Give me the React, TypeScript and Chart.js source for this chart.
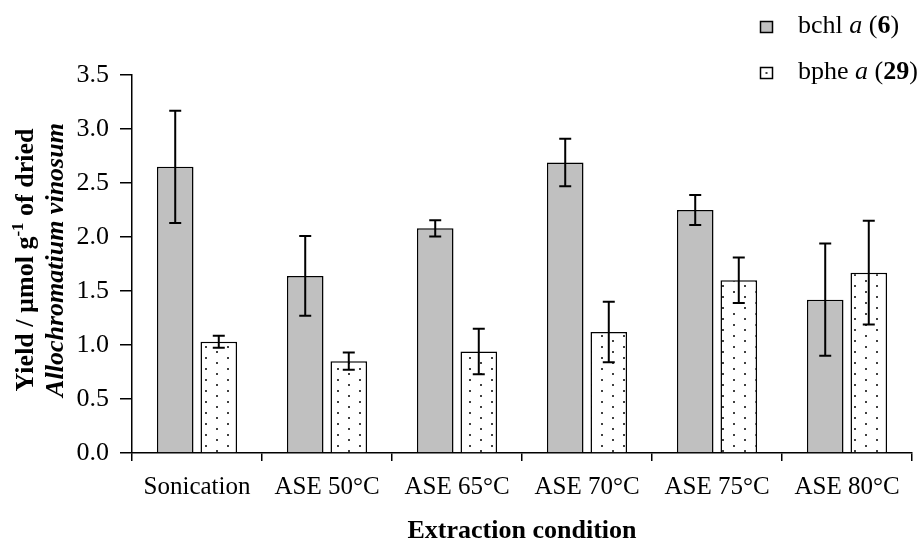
import React, { useEffect, useRef } from 'react';
import { Chart, registerables } from 'chart.js';

Chart.register(...registerables);

const categories = ['Sonication', 'ASE 50°C', 'ASE 65°C', 'ASE 70°C', 'ASE 75°C', 'ASE 80°C'];
const bchlValues = [2.65, 1.64, 2.08, 2.69, 2.25, 1.42];
const bchlErrors = [0.52, 0.37, 0.075, 0.22, 0.14, 0.52];
const bpheValues = [1.03, 0.85, 0.94, 1.12, 1.6, 1.67];
const bpheErrors = [0.055, 0.08, 0.21, 0.28, 0.21, 0.48];
const yMin = 0;
const yMax = 3.5;
const yStep = 0.5;

const FONT = "'Liberation Serif', 'Times New Roman', serif";

export default function App() {
  const canvasRef = useRef<HTMLCanvasElement | null>(null);

  useEffect(() => {
    const canvas = canvasRef.current;
    if (!canvas) return;
    const ctx = canvas.getContext('2d');
    if (!ctx) return;

    const tile = document.createElement('canvas');
    tile.width = 22;
    tile.height = 11;
    const tctx = tile.getContext('2d')!;
    tctx.fillStyle = '#ffffff';
    tctx.fillRect(0, 0, 22, 11);
    tctx.fillStyle = '#404040';
    tctx.fillRect(2, 2, 2, 2);
    tctx.fillRect(13, 7, 2, 2);
    const pattern = ctx.createPattern(tile, 'repeat')!;
    pattern.setTransform(new DOMMatrix().translate(5, 3));

    const errors = [bchlErrors, bpheErrors];

    const errorBarPlugin = {
      id: 'errorBars',
      afterDatasetsDraw(chart: any) {
        const c = chart.ctx;
        const yScale = chart.scales.y;
        c.save();
        c.strokeStyle = '#000';
        c.lineWidth = 2;
        chart.data.datasets.forEach((ds: any, di: number) => {
          const meta = chart.getDatasetMeta(di);
          meta.data.forEach((el: any, i: number) => {
            const v = ds.data[i];
            const e = errors[di][i];
            const yt = yScale.getPixelForValue(v + e);
            const yb = yScale.getPixelForValue(v - e);
            const x = el.x;
            c.beginPath();
            c.moveTo(x, yt);
            c.lineTo(x, yb);
            c.moveTo(x - 6, yt);
            c.lineTo(x + 6, yt);
            c.moveTo(x - 6, yb);
            c.lineTo(x + 6, yb);
            c.stroke();
          });
        });
        c.restore();
      },
    };

    const drawParts = (c: CanvasRenderingContext2D, parts: any[], startX: number, y: number) => {
      let x = startX;
      parts.forEach((p) => {
        c.font = p.font;
        c.fillText(p.text, x, y + (p.dy || 0));
        x += c.measureText(p.text).width;
      });
    };
    const measureParts = (c: CanvasRenderingContext2D, parts: any[]) => {
      let w = 0;
      parts.forEach((p) => {
        c.font = p.font;
        w += c.measureText(p.text).width;
      });
      return w;
    };

    const textPlugin = {
      id: 'customText',
      afterDraw(chart: any) {
        const c = chart.ctx as CanvasRenderingContext2D;
        const area = chart.chartArea;
        c.save();
        c.fillStyle = '#000';

        // X axis title
        c.font = `bold 26px ${FONT}`;
        c.textAlign = 'center';
        c.textBaseline = 'middle';
        c.fillText('Extraction condition', (area.left + area.right) / 2, 531);

        // Y axis title (rotated)
        c.textAlign = 'left';
        c.textBaseline = 'alphabetic';
        const cy = (area.top + area.bottom) / 2 - 4;
        const line1 = [
          { text: 'Yield / µmol g', font: `bold 26px ${FONT}` },
          { text: '-1', font: `bold 17px ${FONT}`, dy: -10 },
          { text: ' of dried', font: `bold 26px ${FONT}` },
        ];
        const line2 = [{ text: 'Allochromatium vinosum', font: `italic bold 26px ${FONT}` }];
        c.save();
        c.translate(33, cy);
        c.rotate(-Math.PI / 2);
        const w1 = measureParts(c, line1);
        drawParts(c, line1, -w1 / 2, 0);
        c.restore();
        c.save();
        c.translate(63, cy);
        c.rotate(-Math.PI / 2);
        const w2 = measureParts(c, line2);
        drawParts(c, line2, -w2 / 2, 0);
        c.restore();

        // Legend
        c.lineWidth = 1.5;
        c.strokeStyle = '#000';
        c.fillStyle = '#c0c0c0';
        c.fillRect(760.5, 21.5, 12, 11);
        c.strokeRect(760.5, 21.5, 12, 11);
        c.fillStyle = '#ffffff';
        c.fillRect(760.5, 67.5, 12, 11);
        c.strokeRect(760.5, 67.5, 12, 11);
        c.fillStyle = '#404040';
        c.fillRect(765.5, 72, 2, 2);

        c.fillStyle = '#000';
        c.textBaseline = 'alphabetic';
        const leg1 = [
          { text: 'bchl ', font: `26px ${FONT}` },
          { text: 'a', font: `italic 26px ${FONT}` },
          { text: ' (', font: `26px ${FONT}` },
          { text: '6', font: `bold 26px ${FONT}` },
          { text: ')', font: `26px ${FONT}` },
        ];
        const leg2 = [
          { text: 'bphe ', font: `26px ${FONT}` },
          { text: 'a', font: `italic 26px ${FONT}` },
          { text: ' (', font: `26px ${FONT}` },
          { text: '29', font: `bold 26px ${FONT}` },
          { text: ')', font: `26px ${FONT}` },
        ];
        drawParts(c, leg1, 798, 33);
        drawParts(c, leg2, 798, 79);
        c.restore();
      },
    };

    const chart = new Chart(ctx, {
      type: 'bar',
      data: {
        labels: categories,
        datasets: [
          {
            label: 'bchl a (6)',
            data: bchlValues,
            backgroundColor: '#c0c0c0',
            borderColor: '#000',
            borderWidth: 1.5,
            categoryPercentage: 0.67,
            barPercentage: 0.84,
          },
          {
            label: 'bphe a (29)',
            data: bpheValues,
            backgroundColor: pattern as any,
            borderColor: '#000',
            borderWidth: 1.5,
            categoryPercentage: 0.67,
            barPercentage: 0.84,
          },
        ],
      },
      options: {
        responsive: false,
        animation: false,
        layout: { padding: { left: 0, top: 75, right: 11, bottom: 0 } },
        plugins: {
          legend: { display: false },
          title: { display: false },
          tooltip: { enabled: false },
        },
        scales: {
          x: {
            afterFit: (scale: any) => {
              scale.height = 97;
            },
            border: { display: true, color: '#000', width: 1.5 },
            grid: {
              display: true,
              drawOnChartArea: false,
              drawTicks: true,
              tickLength: 8,
              color: '#000',
              lineWidth: 1.5,
              offset: true,
            },
            ticks: {
              color: '#000',
              font: { family: FONT, size: 25 },
              padding: 11,
              maxRotation: 0,
              autoSkip: false,
            },
          },
          y: {
            min: yMin,
            max: yMax,
            afterFit: (scale: any) => {
              scale.width = 132;
            },
            border: { display: true, color: '#000', width: 1.5 },
            grid: {
              display: true,
              drawOnChartArea: false,
              drawTicks: true,
              tickLength: 12,
              color: '#000',
              lineWidth: 1.5,
            },
            ticks: {
              stepSize: yStep,
              color: '#000',
              font: { family: FONT, size: 26 },
              padding: 11,
              callback: (v: any) => Number(v).toFixed(1),
            },
          },
        },
      },
      plugins: [errorBarPlugin, textPlugin],
    });

    return () => {
      chart.destroy();
    };
  }, []);

  return (
    <div style={{ position: 'fixed', left: 0, top: 0, width: 923, height: 550, background: '#fff' }}>
      <canvas ref={canvasRef} width={923} height={550} style={{ display: 'block', width: 923, height: 550 }} />
    </div>
  );
}
